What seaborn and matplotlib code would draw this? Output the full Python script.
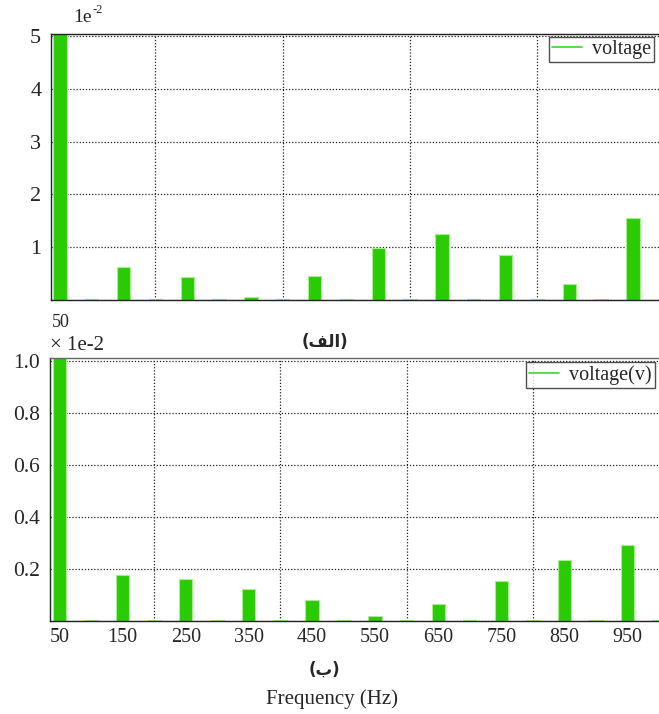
import numpy as np
import pandas as pd
import matplotlib
matplotlib.use("Agg")
import matplotlib.pyplot as plt
from matplotlib.lines import Line2D
import seaborn as sns

# ---- data ----
freqs = [50, 100, 150, 200, 250, 300, 350, 400, 450, 500,
         550, 600, 650, 700, 750, 800, 850, 900, 950, 1000]
voltage_a = [5.05, 0.02, 0.63, 0.02, 0.43, 0.02, 0.06, 0.02, 0.46, 0.02,
             0.99, 0.02, 1.25, 0.02, 0.85, 0.02, 0.30, 0.02, 1.56, 0.02]   # x 1e-2
voltage_b = [1.05, 0.003, 0.177, 0.003, 0.160, 0.003, 0.123, 0.003, 0.080, 0.003,
             0.018, 0.003, 0.064, 0.003, 0.153, 0.003, 0.233, 0.003, 0.292, 0.003]  # x 1e-2
label_freqs = [50, 150, 250, 350, 450, 550, 650, 750, 850, 950]
grid_freqs = [200, 400, 600, 800]
yticks_a = [0, 1, 2, 3, 4, 5]
yticks_b = [0, 0.2, 0.4, 0.6, 0.8, 1.0]

df_a = pd.DataFrame({"freq": freqs, "v": voltage_a})
df_b = pd.DataFrame({"freq": freqs, "v": voltage_b})

sns.set_style("white")
plt.rcParams["font.family"] = ["Liberation Serif", "DejaVu Sans"]

GREEN = "#2BCB04"
EDGE = "#A8EE90"

fig = plt.figure(figsize=(6.59, 7.14), dpi=100)
W, H = 659, 714
def ax_rect(l, t, r, b):
    return [l / W, 1 - b / H, (r - l) / W, (b - t) / H]

ax1 = fig.add_axes(ax_rect(51, 34, 661, 300))
ax2 = fig.add_axes(ax_rect(50, 358, 661, 621))

for ax, df, ylim, yt, ytl in [
    (ax1, df_a, (0, 5.04), yticks_a, ["", "1", "2", "3", "4", "5"]),
    (ax2, df_b, (0, 1.0115), yticks_b, ["", "0.2", "0.4", "0.6", "0.8", "1.0"]),
]:
    sns.barplot(data=df, x="freq", y="v", native_scale=True, width=0.42,
                color=GREEN, edgecolor=EDGE, linewidth=0.8, saturation=1,
                ax=ax, errorbar=None)
    ax.set_ylim(*ylim)
    ax.set_yticks(yt)
    ax.set_yticklabels(ytl)
    ax.set_xlabel("")
    ax.set_ylabel("")
    ax.set_xticks(grid_freqs)
    ax.set_xticklabels([])
    ax.grid(True, which="major", axis="both", linestyle=(0, (1, 1.5)),
            color="#222222", linewidth=0.9)
    ax.set_axisbelow(True)
    for s in ["left", "bottom", "top"]:
        ax.spines[s].set_color("#222222")
        ax.spines[s].set_linewidth(1.0)
    ax.spines["right"].set_visible(False)
    ax.tick_params(axis="y", which="major", direction="out", length=5,
                   width=1, color="#222222", pad=2)

ax1.set_xlim(36, 994)
ax2.set_xlim(35, 1003)
ax1.tick_params(axis="y", labelsize=16)
ax2.tick_params(axis="y", labelsize=15.5)
ax1.tick_params(axis="x", which="major", direction="out", length=4, width=1)
ax2.tick_params(axis="x", which="major", direction="out", length=9, width=1)
ax2.set_xticks(label_freqs, minor=True)
ax2.set_xticklabels([str(f) for f in label_freqs], minor=True)
ax2.tick_params(axis="x", which="minor", length=0, labelsize=14.5, pad=5)
ax1.spines["top"].set_color("#222222")
ax2.spines["top"].set_color("#666666")

# legends
h = [Line2D([0], [0], color="#33DD22", lw=1.2)]
for ax, lab, anchor in [(ax1, "voltage", (0.989, 0.99)), (ax2, "voltage(v)", (0.99, 0.985))]:
    leg = ax.legend(h, [lab], loc="upper right", bbox_to_anchor=anchor,
                    frameon=True, fancybox=False, fontsize=14.5,
                    handlelength=1.5, handletextpad=0.5, borderpad=0.15,
                    borderaxespad=0.0)
    leg.get_frame().set_edgecolor("#222222")
    leg.get_frame().set_linewidth(1.0)

# annotations
fig.text(73 / W, 1 - 18 / H, "1e", fontsize=14, va="center", ha="left")
fig.text(92.5 / W, 1 - 10 / H, "-2", fontsize=9, va="center", ha="left")
fig.text(52 / W, 1 - 323 / H, "50", fontsize=13, va="center", ha="left")
fig.text(50 / W, 1 - 345 / H, "× 1e-2", fontsize=15, va="center", ha="left")
alef_title = "(" + "\uFED2\uFEDF\uFE8D" + ")"
beh_title = "(" + "\uFE8F" + ")"
fig.text(325 / W, 1 - 342 / H, alef_title, fontsize=12, fontweight="bold",
         va="center", ha="center", family=["DejaVu Sans"])
fig.text(324 / W, 1 - 670 / H, beh_title, fontsize=12, fontweight="bold",
         va="center", ha="center", family=["DejaVu Sans"])
fig.text(332 / W, 1 - 699 / H, "Frequency (Hz)", fontsize=15, va="center", ha="center")

fig.savefig("out.png", dpi=100)
